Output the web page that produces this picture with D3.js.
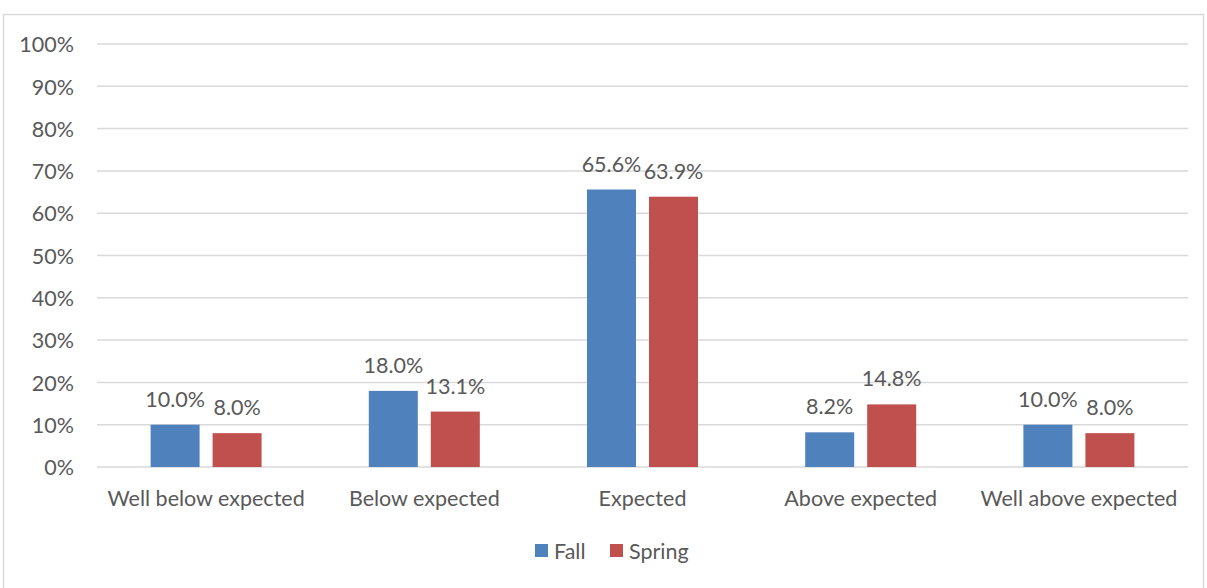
<!DOCTYPE html>
<html>
<head>
<meta charset="utf-8">
<script src="https://cdn.jsdelivr.net/npm/d3@7"></script>
<style>
  body { margin: 0; background: #fff; }
  svg text { font-family: Lato, "Open Sans", sans-serif; fill: #595959; }
</style>
</head>
<body>
<div id="chart"></div>
<script>
"use strict";
const categories = ["Well below expected", "Below expected", "Expected", "Above expected", "Well above expected"];
const seriesNames = ["Fall", "Spring"];
const fallValues = [10.0, 18.0, 65.6, 8.2, 10.0];
const springValues = [8.0, 13.1, 63.9, 14.8, 8.0];
const yTicks = [0, 10, 20, 30, 40, 50, 60, 70, 80, 90, 100];
const colors = ["#4f81bd", "#c0504d"];

const width = 1207;
const height = 588;
const plot = { left: 97, right: 1188, top: 44, bottom: 467 };
const fontSize = 21.5;

const svg = d3.select("#chart").append("svg")
    .attr("width", width)
    .attr("height", height);

// outer chart border
svg.append("rect")
    .attr("x", 3.5).attr("y", 14.5)
    .attr("width", 1200).attr("height", 590)
    .attr("fill", "none")
    .attr("stroke", "#d9d9d9")
    .attr("stroke-width", 1.5);

const x0 = d3.scaleBand()
    .domain(categories)
    .range([plot.left, plot.right]);
const y = d3.scaleLinear()
    .domain([0, 100])
    .range([plot.bottom, plot.top]);

const barW = 49;
const gap = 13;
const x1 = d3.scaleOrdinal()
    .domain(seriesNames)
    .range([-(barW + gap / 2), gap / 2]);

// gridlines
svg.append("g")
    .selectAll("line")
    .data(yTicks)
    .enter()
    .append("line")
    .attr("x1", plot.left).attr("x2", plot.right)
    .attr("y1", d => y(d)).attr("y2", d => y(d))
    .attr("stroke", "#d9d9d9")
    .attr("stroke-width", 1.5);

// y axis labels
const yAxis = d3.axisLeft(y).tickValues(yTicks).tickFormat(d => d + "%").tickSize(0).tickPadding(0);
const yG = svg.append("g")
    .attr("transform", `translate(${plot.left - 23}, 0)`)
    .call(yAxis);
yG.select(".domain").remove();
yG.selectAll("text")
    .attr("font-size", fontSize)
    .attr("dy", "0.36em")
    .style("font-family", null);

// x axis labels
const xAxis = d3.axisBottom(x0).tickSize(0).tickPadding(0);
const xG = svg.append("g")
    .attr("transform", `translate(0, ${plot.bottom + 31})`)
    .call(xAxis);
xG.select(".domain").remove();
xG.selectAll("text")
    .attr("font-size", fontSize)
    .attr("dy", "0.36em")
    .style("font-family", null);

const rows = categories.map((c, i) => ({ cat: c, vals: [fallValues[i], springValues[i]] }));

const groups = svg.selectAll(".cat")
    .data(rows)
    .enter()
    .append("g")
    .attr("class", "cat")
    .attr("transform", d => `translate(${x0(d.cat) + x0.bandwidth() / 2}, 0)`);

const cells = groups.selectAll(".bar")
    .data(d => d.vals.map((v, j) => ({ v: v, s: seriesNames[j], j: j })))
    .enter();

cells.append("rect")
    .attr("class", "bar")
    .attr("x", d => x1(d.s))
    .attr("y", d => y(d.v))
    .attr("width", barW)
    .attr("height", d => y(0) - y(d.v))
    .attr("fill", d => colors[d.j]);

cells.append("text")
    .attr("x", d => x1(d.s) + barW / 2)
    .attr("y", d => y(d.v) - 18)
    .attr("text-anchor", "middle")
    .attr("font-size", fontSize)
    .text(d => d.v.toFixed(1) + "%");

// legend
const legendX = [535, 610];
const legend = svg.append("g")
    .selectAll("g")
    .data(seriesNames)
    .enter()
    .append("g")
    .attr("transform", (d, i) => `translate(${legendX[i]}, 544)`);
legend.append("rect")
    .attr("width", 13).attr("height", 13)
    .attr("fill", (d, i) => colors[i]);
legend.append("text")
    .attr("x", 19).attr("y", 7)
    .attr("dy", "0.36em")
    .attr("font-size", fontSize)
    .text(d => d);
</script>
</body>
</html>
